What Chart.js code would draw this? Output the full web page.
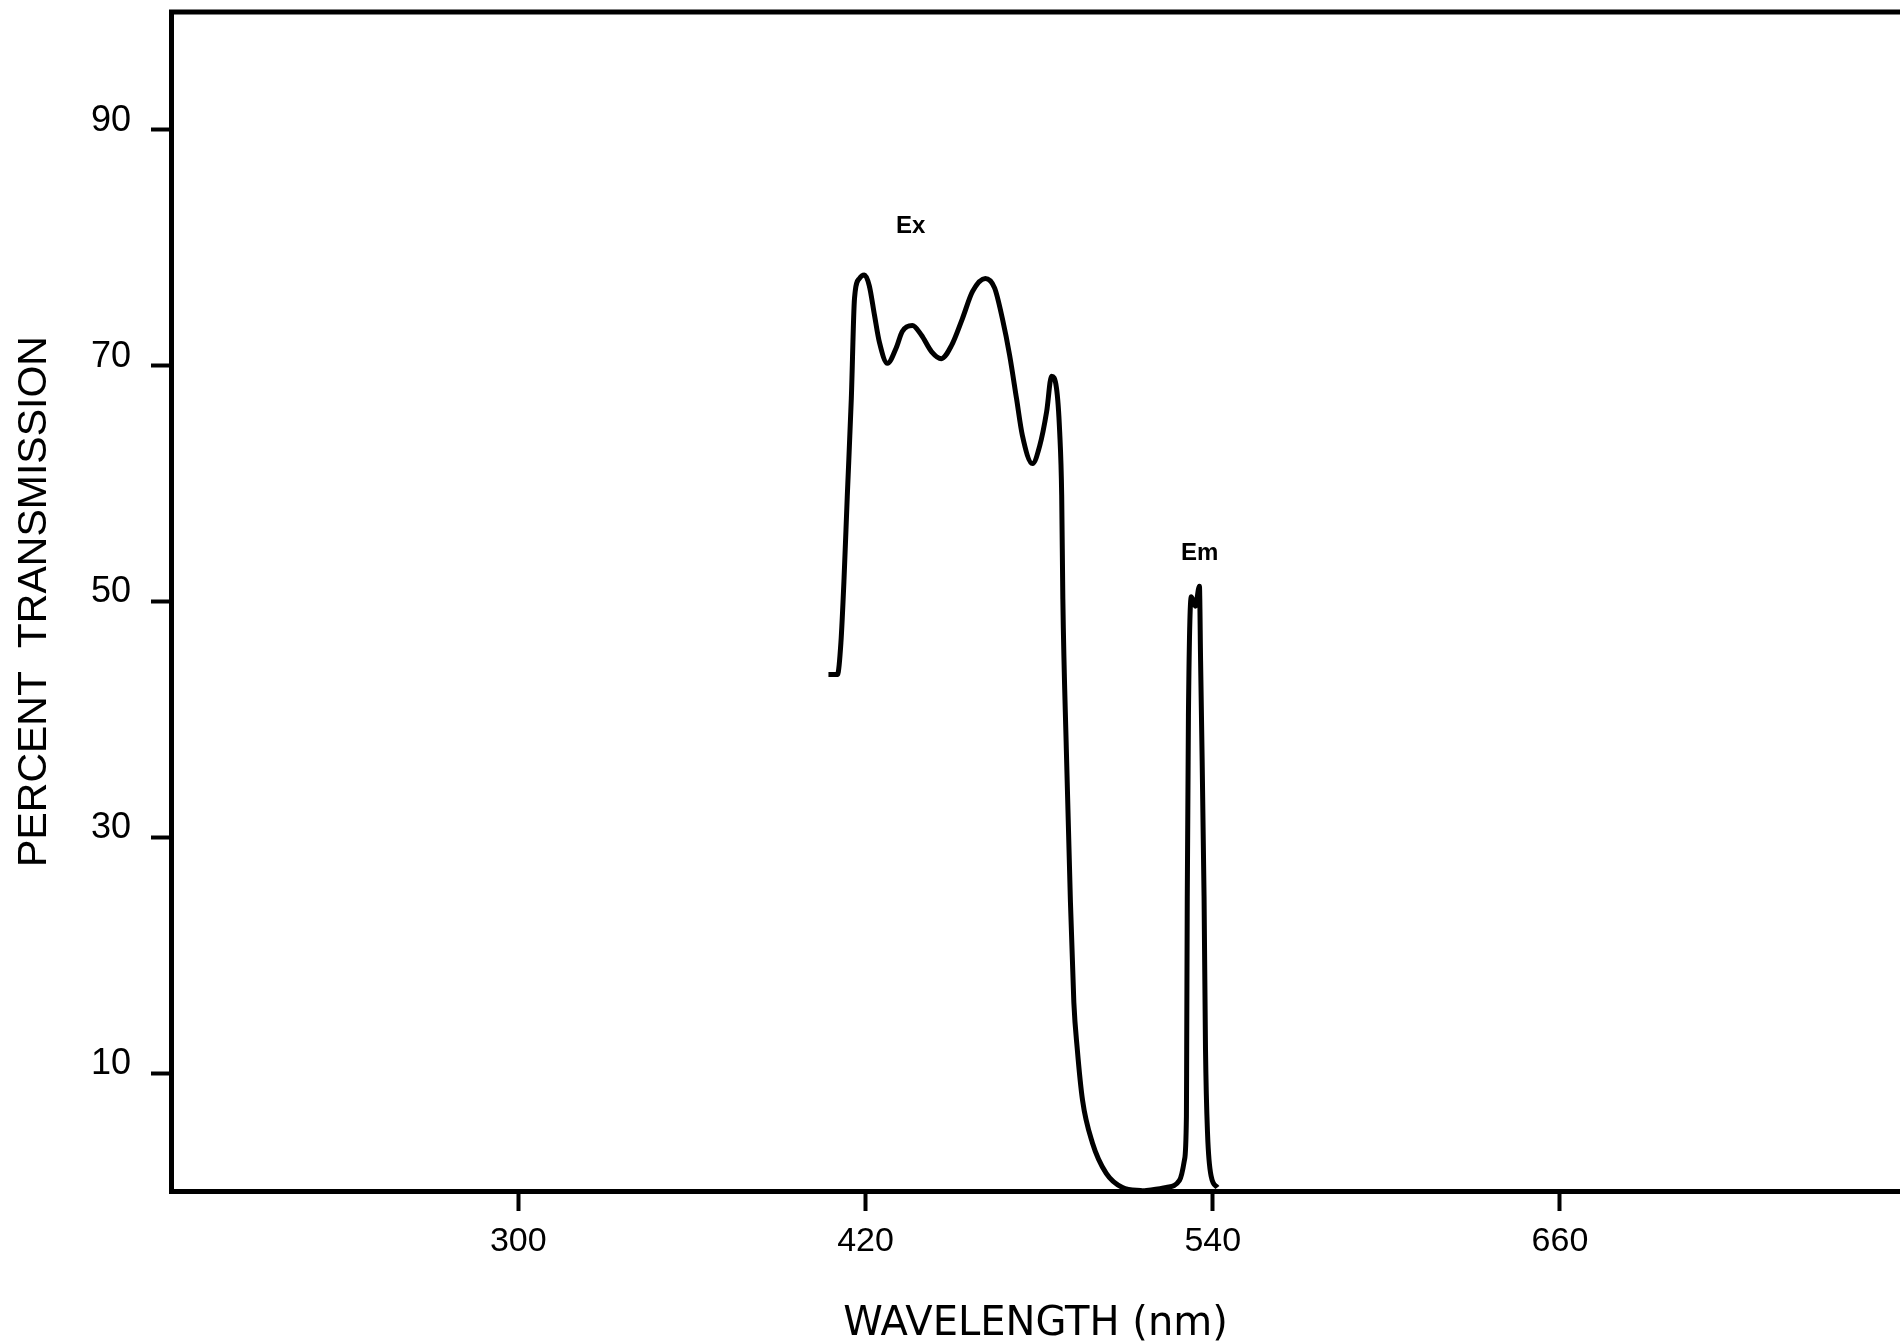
<!DOCTYPE html>
<html>
<head>
<meta charset="utf-8">
<script src="https://cdn.jsdelivr.net/npm/chart.js@4.4.0/dist/chart.umd.min.js"></script>
<style>
  html, body { margin: 0; padding: 0; background: #fff; overflow: hidden; }
  #spectrumChart { display: block; }
</style>
</head>
<body>
<canvas id="spectrumChart" width="1900" height="1341"></canvas>
<script>
// excitation filter curve (Ex)
const exWavelength = [407.2, 410.3, 411.5, 412.6, 413.7, 415.1, 416.2, 417.9, 419.6, 421.3, 423.1, 424.8, 427.6, 430.6, 432.7, 436.2, 439.3, 442.8, 446.2, 449.7, 453.5, 457.0, 461.4, 464.6, 467.3, 469.8, 472.2, 474.2, 477.7, 480.2, 482.6, 484.3, 486.0, 487.1, 487.8, 488.2, 489.4, 490.8, 492.0, 493.2, 495.0, 498.4, 503.2, 508.8, 516.0];
const exTransmission = [43.8, 43.8, 46.5, 52.0, 58.9, 67.2, 75.7, 77.4, 77.7, 76.8, 74.3, 72.0, 70.2, 71.5, 72.9, 73.4, 72.6, 71.2, 70.6, 71.7, 74.0, 76.3, 77.4, 76.6, 74.0, 70.9, 67.2, 64.1, 61.7, 63.2, 66.1, 69.1, 68.1, 64.4, 59.0, 50.2, 37.5, 24.7, 16.0, 12.0, 7.7, 4.1, 1.5, 0.3, 0.0];

// emission filter curve (Em)
const emWavelength = [516.0, 524.0, 528.5, 530.2, 530.9, 531.0, 531.2, 531.6, 532.6, 534.0, 535.4, 535.8, 536.1, 537.0, 537.5, 538.2, 539.5, 541.6];
const emTransmission = [0.0, 0.3, 0.9, 2.6, 6.3, 12.0, 25.0, 40.3, 50.4, 49.6, 51.3, 45.0, 40.3, 25.0, 12.0, 4.9, 1.2, 0.3];

const xTicks = [300, 420, 540, 660];
const yTicks = [10, 30, 50, 70, 90];

const curveLabels = ["Ex", "Em"];
const curveLabelX = [435.6, 535.5];
const curveLabelY = [81.8, 54.1];

const exPoints = exWavelength.map((w, i) => ({ x: w, y: exTransmission[i] }));
const emPoints = emWavelength.map((w, i) => ({ x: w, y: emTransmission[i] }));

const ink = "#000";

const framePlugin = {
  id: "frame",
  afterDraw(chart) {
    const ctx = chart.ctx;
    const area = chart.chartArea;
    const xs = chart.scales.x;
    const ys = chart.scales.y;
    ctx.save();
    // top edge of the plot box
    ctx.strokeStyle = ink;
    ctx.lineWidth = 5;
    ctx.beginPath();
    ctx.moveTo(area.left - 2, area.top);
    ctx.lineTo(area.right, area.top);
    ctx.stroke();
    // curve labels
    ctx.fillStyle = ink;
    ctx.font = "bold 24px 'Liberation Sans', Arial, sans-serif";
    ctx.textAlign = "center";
    ctx.textBaseline = "middle";
    curveLabels.forEach((t, i) => {
      ctx.fillText(t, xs.getPixelForValue(curveLabelX[i]), ys.getPixelForValue(curveLabelY[i]));
    });
    ctx.restore();
  },
};

const ctx = document.getElementById("spectrumChart").getContext("2d");

let spectrumChart = new Chart(ctx, {
  type: "line",
  data: {
    datasets: [
      {
        label: "Ex",
        data: exPoints,
        borderColor: ink,
        borderWidth: 5,
        pointRadius: 0,
        cubicInterpolationMode: "monotone",
        fill: false,
      },
      {
        label: "Em",
        data: emPoints,
        borderColor: ink,
        borderWidth: 5,
        pointRadius: 0,
        cubicInterpolationMode: "monotone",
        fill: false,
      },
    ],
  },
  options: {
    responsive: false,
    animation: false,
    devicePixelRatio: 1,
    layout: { padding: { top: 12, right: 0, left: 0, bottom: 0 } },
    plugins: {
      legend: { display: false },
      tooltip: { enabled: false },
    },
    scales: {
      x: {
        type: "linear",
        min: 180,
        max: 777.5,
        afterBuildTicks: (axis) => {
          axis.ticks = xTicks.map((v) => ({ value: v }));
        },
        afterFit: (axis) => {
          axis.height = 150;
          axis.paddingLeft = 0;
          axis.paddingRight = 0;
        },
        border: { display: true, color: ink, width: 5 },
        grid: {
          drawOnChartArea: false,
          drawTicks: true,
          tickLength: 20,
          tickWidth: 4,
          tickColor: ink,
        },
        ticks: {
          color: ink,
          padding: 10,
          maxRotation: 0,
          font: { family: "'Liberation Sans', Arial, sans-serif", size: 34 },
        },
        title: {
          display: true,
          text: "WAVELENGTH (nm)",
          color: ink,
          padding: { top: 0, bottom: -8 },
          font: { family: "'DejaVu Sans', 'Liberation Sans', sans-serif", size: 40 },
        },
      },
      y: {
        type: "linear",
        min: 0,
        max: 100,
        afterBuildTicks: (axis) => {
          axis.ticks = yTicks.map((v) => ({ value: v }));
        },
        afterFit: (axis) => {
          axis.width = 171;
          axis.paddingTop = 0;
          axis.paddingBottom = 0;
        },
        border: { display: true, color: ink, width: 5 },
        grid: {
          drawOnChartArea: false,
          drawTicks: true,
          tickLength: 20,
          tickWidth: 4,
          tickColor: ink,
        },
        ticks: {
          color: ink,
          padding: 20,
          labelOffset: -9,
          font: { family: "'Liberation Sans', Arial, sans-serif", size: 36 },
        },
        title: {
          display: true,
          text: "PERCENT  TRANSMISSION",
          color: ink,
          padding: { top: 10, bottom: 0 },
          font: { family: "'Liberation Sans', Arial, sans-serif", size: 41 },
        },
      },
    },
  },
  plugins: [framePlugin],
});
</script>
</body>
</html>
